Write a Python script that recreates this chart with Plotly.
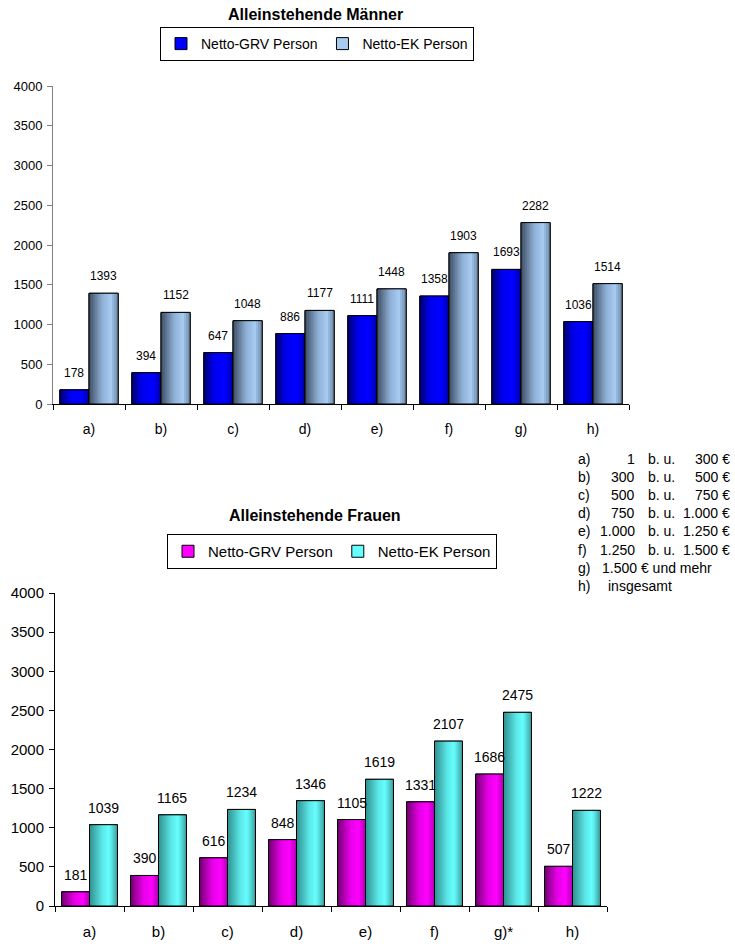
import numpy as np
import plotly.graph_objects as go

# ---------------- data ----------------
categories_m = ["a)", "b)", "c)", "d)", "e)", "f)", "g)", "h)"]
categories_f = ["a)", "b)", "c)", "d)", "e)", "f)", "g)*", "h)"]
men_grv = [178, 394, 647, 886, 1111, 1358, 1693, 1036]
men_ek = [1393, 1152, 1048, 1177, 1448, 1903, 2282, 1514]
women_grv = [181, 390, 616, 848, 1105, 1331, 1686, 507]
women_ek = [1039, 1165, 1234, 1346, 1619, 2107, 2475, 1222]
series_names = ["Netto-GRV Person", "Netto-EK Person"]
y_ticks = [0, 500, 1000, 1500, 2000, 2500, 3000, 3500, 4000]

key_labels = ["a)", "b)", "c)", "d)", "e)", "f)", "g)", "h)"]
key_low = ["1", "300", "500", "750", "1.000", "1.250"]
key_high = ["300 €", "500 €", "750 €", "1.000 €", "1.250 €", "1.500 €"]
key_g = "1.500 € und mehr"
key_h = "insgesamt"

# ---------------- style ----------------
W, H = 735, 946
ARIAL = "Liberation Sans, Arial"

grad_blue = [(0, "#000070"), (0.35, "#0000F0"), (0.75, "#0000FF"), (1, "#0000A0")]
grad_light = [(0, "#3D4D63"), (0.45, "#8FB0D6"), (0.75, "#A6CAF0"), (1, "#6A86A6")]
grad_mag = [(0, "#700070"), (0.45, "#E600E6"), (0.75, "#FF00FF"), (1, "#B000B0")]
grad_cyan = [(0, "#2F8F8F"), (0.45, "#5CE6E6"), (0.7, "#66FFFF"), (1, "#3C9E9E")]
solid = {"blue": "#0000FF", "light": "#A6CAF0", "mag": "#FF00FF", "cyan": "#66FFFF"}


def hex2rgb(h):
    h = h.lstrip("#")
    return [int(h[i:i + 2], 16) for i in (0, 2, 4)]


def interp(stops, t):
    for (t0, c0), (t1, c1) in zip(stops[:-1], stops[1:]):
        if t0 <= t <= t1:
            f = 0 if t1 == t0 else (t - t0) / (t1 - t0)
            a, b = hex2rgb(c0), hex2rgb(c1)
            return "rgb(%d,%d,%d)" % tuple(round(a[i] + (b[i] - a[i]) * f) for i in range(3))
    return stops[-1][1]


def px2x(px):
    return px / W


def px2y(py):
    return 1 - py / H


fig = go.Figure()
BW = 0.405  # bar width in category units
NSTRIP = 14


def add_series(xa, ya, values, name, stops, solid_color, si, legend, font_size):
    idx = np.arange(len(values))
    left = -BW + si * BW
    # base (legend) bar
    fig.add_trace(go.Bar(x=idx, y=values, width=BW, offset=left, name=name,
                         marker=dict(color=solid_color, line=dict(color="black", width=1)),
                         xaxis=xa, yaxis=ya, legend=legend, showlegend=True, hoverinfo="skip"))
    sw = BW / NSTRIP
    for k in range(NSTRIP):
        off = left + k * sw
        wk = min(sw * 1.6, left + BW - off)
        fig.add_trace(go.Bar(x=idx, y=values, width=wk, offset=off,
                             marker=dict(color=interp(stops, (k + 0.5) / NSTRIP), line=dict(width=0)),
                             xaxis=xa, yaxis=ya, showlegend=False, hoverinfo="skip"))
    fig.add_trace(go.Bar(x=idx, y=values, width=BW, offset=left,
                         marker=dict(color="rgba(0,0,0,0)", line=dict(color="black", width=1)),
                         xaxis=xa, yaxis=ya, showlegend=False, hoverinfo="skip"))
    for i, v in enumerate(values):
        fig.add_annotation(x=i + left + BW / 2, y=v, xref=xa, yref=ya, text=str(v),
                           showarrow=False, yshift=17, yanchor="middle", xanchor="center",
                           font=dict(family=ARIAL, size=font_size, color="black"))


add_series("x", "y", men_grv, series_names[0], grad_blue, solid["blue"], 0, "legend", 12)
add_series("x", "y", men_ek, series_names[1], grad_light, solid["light"], 1, "legend", 12)
add_series("x2", "y2", women_grv, series_names[0], grad_mag, solid["mag"], 0, "legend2", 14)
add_series("x2", "y2", women_ek, series_names[1], grad_cyan, solid["cyan"], 1, "legend2", 14)


def xaxis_def(domain, anchor, cats, size, standoff):
    return dict(domain=domain, anchor=anchor, range=[-0.5, 7.5], tickvals=list(range(len(cats))),
                ticktext=cats, ticks="", showgrid=False, zeroline=False, showline=True,
                linecolor="black", linewidth=1, ticklabelstandoff=standoff,
                minor=dict(ticks="outside", tick0=-0.5, dtick=1, ticklen=5, tickcolor="black",
                           showgrid=False),
                tickfont=dict(family=ARIAL, size=size, color="black"), fixedrange=True)


def yaxis_def(domain, anchor, linecolor, size):
    return dict(domain=domain, anchor=anchor, range=[0, 4000], tickvals=y_ticks, ticks="outside",
                ticklen=5, tickcolor=linecolor, showgrid=False, zeroline=False, showline=True,
                linecolor=linecolor, linewidth=1, ticklabelstandoff=2,
                tickfont=dict(family=ARIAL, size=size, color="black"), fixedrange=True)


fig.update_layout(
    width=W, height=H, autosize=False,
    margin=dict(l=0, r=0, t=0, b=0, autoexpand=False),
    paper_bgcolor="white", plot_bgcolor="white",
    barmode="overlay",
    xaxis=xaxis_def([px2x(53), px2x(629)], "y", categories_m, 14, 12),
    yaxis=yaxis_def([px2y(404), px2y(86)], "x", "#808080", 13),
    xaxis2=xaxis_def([px2x(55), px2x(607)], "y2", categories_f, 15, 12),
    yaxis2=yaxis_def([px2y(906), px2y(593)], "x2", "black", 15),
    legend=dict(orientation="h", x=px2x(317), xanchor="center", y=px2y(27), yanchor="top",
                bordercolor="black", borderwidth=1, bgcolor="white",
                font=dict(family=ARIAL, size=14, color="black"), itemwidth=30,
                tracegroupgap=0),
    legend2=dict(orientation="h", x=px2x(332), xanchor="center", y=px2y(534), yanchor="top",
                 bordercolor="black", borderwidth=1, bgcolor="white",
                 font=dict(family=ARIAL, size=15, color="black"), itemwidth=30,
                 tracegroupgap=0),
)

# titles
fig.add_annotation(x=px2x(315), y=px2y(15), xref="paper", yref="paper", text="<b>Alleinstehende Männer</b>",
                   showarrow=False, xanchor="center", yanchor="middle",
                   font=dict(family=ARIAL, size=16, color="black"))
fig.add_annotation(x=px2x(315), y=px2y(515), xref="paper", yref="paper", text="<b>Alleinstehende Frauen</b>",
                   showarrow=False, xanchor="center", yanchor="middle",
                   font=dict(family=ARIAL, size=16, color="black"))

# key text block
KF = dict(family=ARIAL, size=14, color="black")
row_y0, row_dy = 459, 18.1
for i, lab in enumerate(key_labels):
    yy = px2y(row_y0 + i * row_dy)
    fig.add_annotation(x=px2x(576), y=yy, xref="paper", yref="paper", text=lab, showarrow=False,
                       xanchor="left", yanchor="middle", font=KF)
    if i < len(key_low):
        fig.add_annotation(x=px2x(637), y=yy, xref="paper", yref="paper", text=key_low[i], showarrow=False,
                           xanchor="right", yanchor="middle", font=KF)
        fig.add_annotation(x=px2x(646), y=yy, xref="paper", yref="paper", text="b. u.", showarrow=False,
                           xanchor="left", yanchor="middle", font=KF)
        fig.add_annotation(x=px2x(732), y=yy, xref="paper", yref="paper", text=key_high[i], showarrow=False,
                           xanchor="right", yanchor="middle", font=KF)
    elif lab == "g)":
        fig.add_annotation(x=px2x(600), y=yy, xref="paper", yref="paper", text=key_g, showarrow=False,
                           xanchor="left", yanchor="middle", font=KF)
    else:
        fig.add_annotation(x=px2x(606), y=yy, xref="paper", yref="paper", text=key_h, showarrow=False,
                           xanchor="left", yanchor="middle", font=KF)

fig.write_html("out.html", config={"displayModeBar": False},
               post_script="document.body.style.margin='0px';document.body.style.overflow='hidden';")
